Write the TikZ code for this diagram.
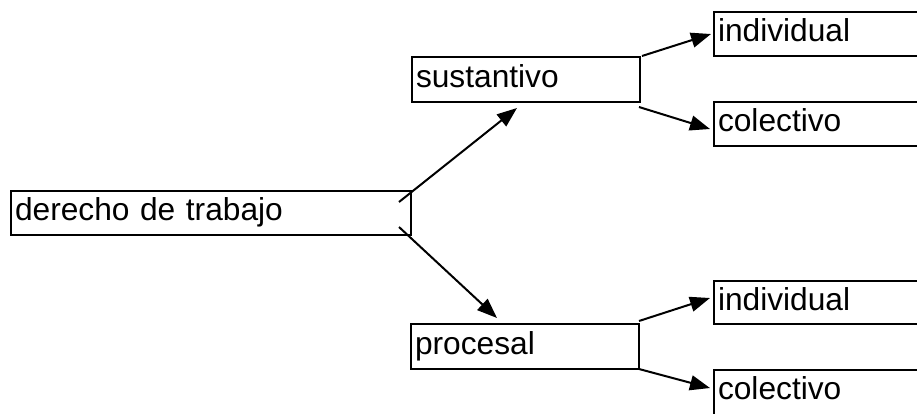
\documentclass[tikz,border=0pt]{standalone}
\usepackage{fontspec}
\setmainfont{Liberation Sans}
\usetikzlibrary{arrows.meta,calc}
\begin{document}
\begin{tikzpicture}[x=1pt,y=1pt,
  box/.style={draw, line width=2pt, inner xsep=3pt, inner ysep=0pt,
    text height=23.5pt, text depth=8pt, align=left, anchor=north west,
    font=\fontsize{31.7pt}{38pt}\selectfont},
  conn/.style={line width=2pt, -{Triangle[length=20pt,width=15pt]}}]
\useasboundingbox (0,0) rectangle (917,-413);
\clip (0,0) rectangle (917,-413);
\node[box, minimum width=400pt, minimum height=44pt, text width=392pt] (der) at (10,-190) {derecho de trabajo};
\node[box, minimum width=228pt, minimum height=45pt, text width=220pt] (sus) at (411,-56) {sustantivo};
\node[box, minimum width=228pt, minimum height=45pt, text width=220pt] (pro) at (410,-323) {procesal};
\node[box, minimum width=240pt, minimum height=44pt, text width=232pt] (ind1) at (713,-11) {individual};
\node[box, minimum width=240pt, minimum height=44pt, text width=232pt] (col1) at (713,-101) {colectivo};
\node[box, minimum width=240pt, minimum height=43pt, text width=232pt] (ind2) at (713,-280) {individual};
\node[box, minimum width=240pt, minimum height=60pt, text width=232pt, text depth=24pt] (col2) at (713,-369) {colectivo};
\draw[conn] ($(der.north east)+(-13,-12)$) -- ($(sus.south west)+(106,-5)$);
\draw[conn] ($(der.south east)+(-13,9)$) -- ($(pro.north west)+(87,5)$);
\draw[conn] ($(sus.north east)+(1,0)$) -- ($(ind1.west)+(-2,0)$);
\draw[conn] ($(sus.south east)+(-2,-4)$) -- ($(col1.west)+(-3,-5)$);
\draw[conn] ($(pro.north east)+(-1,2)$) -- ($(ind2.west)+(-3,4.5)$);
\draw[conn] ($(pro.south east)+(-1,1)$) -- ($(col2.north west)+(-3,-19)$);
\end{tikzpicture}
\end{document}
